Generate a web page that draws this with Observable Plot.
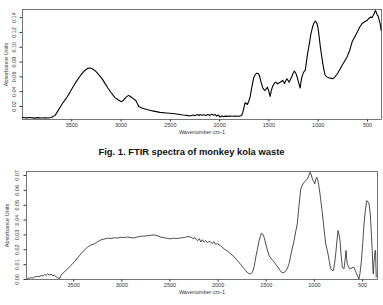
<!DOCTYPE html>
<html>
<head>
<meta charset="utf-8">
<script src="https://cdn.jsdelivr.net/npm/d3@7"></script>
<script src="https://cdn.jsdelivr.net/npm/@observablehq/plot@0.6"></script>
<style>
  body { margin: 0; background: #fff; font-family: "Liberation Sans", Arial, sans-serif; }
  #caption { height: 20px; line-height: 20px; text-align: center; font-weight: bold; font-size: 9.4px; color: #111; }
  svg { display: block; }
</style>
</head>
<body>
<div id="top"></div>
<div id="caption">Fig. 1. FTIR spectra of monkey kola waste</div>
<div id="bottom"></div>
<script>
// Upper spectrum: wavenumber (cm-1) and absorbance
const wnA = [4000,3960,3920,3880,3850,3810,3770,3740,3710,3690,3670,3650,3620,3590,3551,3520,3490,3455,3419,3390,3368,3337,3315,3297,3270,3246,3220,3195,3165,3134,3100,3063,3030,3005,2992,2975,2961,2945,2925,2905,2890,2870,2850,2830,2819,2790,2738,2680,2606,2540,2474,2420,2370,2331,2300,2270,2250,2230,2210,2199,2180,2160,2140,2120,2100,2080,2060,2047,2030,2015,1996,1980,1960,1940,1920,1900,1870,1840,1810,1793,1775,1765,1752,1742,1730,1718,1705,1691,1675,1657,1640,1623,1610,1597,1580,1562,1550,1539,1527,1515,1500,1488,1475,1460,1437,1425,1413,1400,1386,1372,1359,1342,1330,1318,1305,1295,1280,1267,1255,1244,1234,1224,1210,1200,1190,1183,1175,1166,1149,1140,1132,1120,1108,1090,1074,1060,1047,1030,1015,1003,992,980,967,953,940,929,912,895,870,851,830,810,785,759,733,708,680,657,630,606,580,556,530,505,490,471,455,443,430,420,410,403,392,382,372,362];
const absA = [0.0052,0.0046,0.0050,0.0043,0.0049,0.0044,0.0048,0.0045,0.0052,0.0065,0.0080,0.0120,0.0186,0.0250,0.0320,0.0390,0.0460,0.0535,0.0605,0.0655,0.0686,0.0716,0.0718,0.0712,0.0690,0.0660,0.0620,0.0580,0.0515,0.0450,0.0385,0.0320,0.0290,0.0270,0.0268,0.0285,0.0310,0.0330,0.0350,0.0335,0.0320,0.0300,0.0280,0.0225,0.0200,0.0180,0.0160,0.0140,0.0120,0.0112,0.0105,0.0095,0.0085,0.0080,0.0072,0.0085,0.0075,0.0090,0.0078,0.0092,0.0082,0.0088,0.0079,0.0091,0.0080,0.0095,0.0083,0.0092,0.0070,0.0085,0.0056,0.0072,0.0063,0.0070,0.0066,0.0071,0.0067,0.0072,0.0068,0.0070,0.0085,0.0120,0.0190,0.0250,0.0240,0.0227,0.0270,0.0326,0.0450,0.0574,0.0630,0.0650,0.0645,0.0620,0.0530,0.0450,0.0425,0.0416,0.0440,0.0460,0.0400,0.0335,0.0420,0.0480,0.0528,0.0520,0.0506,0.0518,0.0528,0.0540,0.0551,0.0510,0.0545,0.0574,0.0550,0.0528,0.0570,0.0605,0.0650,0.0677,0.0665,0.0640,0.0580,0.0528,0.0480,0.0450,0.0530,0.0597,0.0660,0.0680,0.0686,0.0800,0.0910,0.1050,0.1180,0.1260,0.1317,0.1355,0.1330,0.1270,0.1160,0.1024,0.0900,0.0777,0.0680,0.0620,0.0600,0.0588,0.0580,0.0574,0.0600,0.0632,0.0690,0.0754,0.0810,0.0866,0.0960,0.1070,0.1140,0.1200,0.1270,0.1317,0.1345,0.1360,0.1385,0.1407,0.1400,0.1428,0.1460,0.1497,0.1470,0.1440,0.1420,0.1370,0.1320,0.1230];

// Lower spectrum: wavenumber (cm-1) and absorbance
const wnB = [3990,3977,3950,3920,3909,3880,3860,3839,3820,3800,3785,3770,3755,3735,3715,3700,3684,3665,3649,3632,3600,3562,3530,3494,3460,3424,3390,3355,3320,3286,3250,3217,3180,3147,3110,3080,3040,3009,2980,2940,2900,2871,2840,2802,2760,2720,2690,2664,2630,2595,2560,2520,2491,2460,2420,2387,2350,2320,2303,2280,2260,2240,2225,2210,2195,2180,2165,2145,2130,2110,2095,2076,2060,2045,2030,2006,1975,1938,1900,1868,1830,1799,1765,1730,1700,1678,1660,1643,1625,1609,1590,1575,1560,1550,1537,1523,1500,1471,1445,1419,1400,1378,1360,1343,1325,1308,1285,1264,1240,1212,1195,1177,1160,1142,1125,1108,1090,1073,1058,1046,1033,1021,1008,997,987,977,965,954,935,917,900,883,870,859,845,831,817,803,790,779,766,755,745,734,722,710,700,693,682,672,665,658,645,631,610,589,575,561,550,537,525,512,498,485,470,457,445,433,425,418,408,400,394,389,382,376,370,365,361,358];
const absB = [0.0002,0.0005,0.0012,0.0010,0.0016,0.0022,0.0018,0.0027,0.0024,0.0033,0.0029,0.0038,0.0031,0.0034,0.0026,0.0030,0.0018,0.0012,0.0005,0.0027,0.0050,0.0072,0.0095,0.0117,0.0145,0.0173,0.0198,0.0218,0.0232,0.0240,0.0255,0.0267,0.0273,0.0278,0.0276,0.0281,0.0279,0.0285,0.0282,0.0286,0.0281,0.0280,0.0286,0.0291,0.0293,0.0296,0.0299,0.0300,0.0294,0.0285,0.0281,0.0276,0.0274,0.0278,0.0276,0.0280,0.0283,0.0288,0.0289,0.0284,0.0275,0.0282,0.0268,0.0262,0.0275,0.0252,0.0268,0.0251,0.0263,0.0248,0.0257,0.0251,0.0242,0.0255,0.0238,0.0240,0.0228,0.0206,0.0190,0.0173,0.0150,0.0128,0.0100,0.0072,0.0050,0.0038,0.0040,0.0049,0.0090,0.0150,0.0210,0.0260,0.0295,0.0312,0.0305,0.0285,0.0225,0.0161,0.0138,0.0117,0.0100,0.0083,0.0065,0.0049,0.0045,0.0049,0.0070,0.0105,0.0180,0.0260,0.0320,0.0379,0.0500,0.0610,0.0635,0.0655,0.0665,0.0677,0.0700,0.0722,0.0705,0.0677,0.0660,0.0644,0.0670,0.0688,0.0670,0.0633,0.0540,0.0442,0.0340,0.0240,0.0205,0.0173,0.0120,0.0072,0.0062,0.0061,0.0110,0.0173,0.0260,0.0330,0.0305,0.0260,0.0160,0.0083,0.0075,0.0072,0.0130,0.0195,0.0140,0.0105,0.0085,0.0072,0.0078,0.0083,0.0060,0.0038,0.0020,0.0004,0.0050,0.0128,0.0250,0.0375,0.0470,0.0531,0.0525,0.0509,0.0470,0.0420,0.0300,0.0195,0.0100,0.0038,0.0110,0.0150,0.0195,0.0195,0.0080,0.0016];

// Axis ticks
const xTicks = [3500, 3000, 2500, 2000, 1500, 1000, 500];
const yTicksA = [0.02, 0.04, 0.06, 0.08, 0.10, 0.12, 0.14];
const yTicksB = [0.00, 0.01, 0.02, 0.03, 0.04, 0.05, 0.06, 0.07];

const xTitle = "Wavenumber cm-1";
const yTitle = "Absorbance Units";
const font = "'Liberation Sans', Arial, sans-serif";

function spectrum({wn, ab, xDomain, yDomain, yTicks, height, margin, stroke, strokeWidth, yLabelOffset, yTickDx}) {
  const rows = wn.map((w, i) => ({w, a: ab[i]}));
  return Plot.plot({
    width: 383,
    height,
    marginTop: margin[0], marginRight: margin[1], marginBottom: margin[2], marginLeft: margin[3],
    style: {fontFamily: font, background: "#fff", color: "#333"},
    x: {domain: xDomain},
    y: {domain: yDomain},
    marks: [
      Plot.axisX({ticks: xTicks, tickSize: 2.5, tickPadding: 1.5, fontSize: 5.5, tickFormat: d => String(d),
        label: xTitle, labelAnchor: "center", labelOffset: 14, labelArrow: "none"}),
      // y ticks with the title; the tick numbers are drawn rotated, reading upward
      Plot.axisY({ticks: yTicks, tickSize: 2.5, fontSize: 5.5, tickFormat: () => "",
        label: yTitle, labelAnchor: "center", labelOffset: yLabelOffset, labelArrow: "none"}),
      Plot.text(yTicks, {y: d => d, text: d => d.toFixed(2), frameAnchor: "left", rotate: -90,
        textAnchor: "middle", lineAnchor: "middle", dx: yTickDx, fontSize: 5.5, fill: "#333"}),
      Plot.frame({stroke: "#555", strokeWidth: 0.8}),
      Plot.line(rows, {x: "w", y: "a", stroke, strokeWidth})
    ]
  });
}

document.getElementById("top").append(spectrum({
  wn: wnA, ab: absA, xDomain: [4000, 358], yDomain: [0.0024, 0.151], yTicks: yTicksA,
  height: 142, margin: [9, 2, 23, 22], stroke: "#000", strokeWidth: 1.1, yLabelOffset: 18, yTickDx: -8
}));

document.getElementById("bottom").append(spectrum({
  wn: wnB, ab: absB, xDomain: [3990, 345], yDomain: [0, 0.0727], yTicks: yTicksB,
  height: 143, margin: [9, 6, 26, 26], stroke: "#222", strokeWidth: 0.8, yLabelOffset: 21, yTickDx: -9
}));
</script>
</body>
</html>
